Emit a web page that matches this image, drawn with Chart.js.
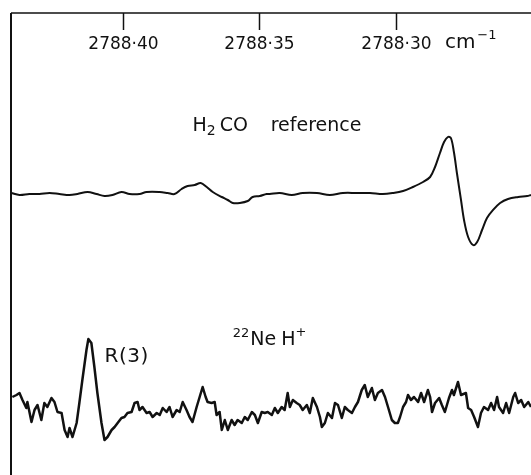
<!DOCTYPE html>
<html>
<head>
<meta charset="utf-8">
<script src="https://cdn.jsdelivr.net/npm/chart.js@4.4.1/dist/chart.umd.min.js"></script>
<style>
  html, body { margin: 0; padding: 0; background: #fff; }
  #wrap { width: 531px; height: 475px; }
</style>
</head>
<body>
<div id="wrap"><canvas id="spectrum" width="531" height="475"></canvas></div>
<script>
// Eje de número de onda (cm-1), invertido como en el original
const tickValues = [2788.40, 2788.35, 2788.30];
const xRange = [2788.2506, 2788.4408];

// Traza de referencia H2CO (número de onda, señal en unidades arbitrarias)
const h2coWavenumber = [
    2788.4407, 2788.4377, 2788.4341, 2788.4304, 2788.4267, 2788.4231, 2788.4194, 2788.4165,
    2788.4128, 2788.4095, 2788.4066, 2788.4037, 2788.4004, 2788.3974, 2788.3938, 2788.3912,
    2788.3864, 2788.3835, 2788.3810, 2788.3784, 2788.3762, 2788.3736, 2788.3714, 2788.3692,
    2788.3670, 2788.3637, 2788.3615, 2788.3597, 2788.3571, 2788.3542, 2788.3524, 2788.3498,
    2788.3473, 2788.3462, 2788.3425, 2788.3381, 2788.3341, 2788.3289, 2788.3242, 2788.3194,
    2788.3143, 2788.3095, 2788.3048, 2788.3011, 2788.2974, 2788.2938, 2788.2901, 2788.2875,
    2788.2857, 2788.2839, 2788.2824, 2788.2810, 2788.2799, 2788.2788, 2788.2777, 2788.2762,
    2788.2751, 2788.2736, 2788.2718, 2788.2703, 2788.2685, 2788.2667, 2788.2645, 2788.2619,
    2788.2590, 2788.2553, 2788.2520, 2788.2506
];
const h2coSignal = [
    1, -1, 0, 0, 1, 0, -1, 0,
    2, 0, -2, -1, 2, 0, 0, 2,
    2, 1, 0, 5, 8, 9, 11, 7,
    2, -3, -6, -9, -9, -7, -3, -2,
    0, 0, 1, -1, 1, 1, -1, 1,
    1, 1, 0, 1, 3, 7, 12, 17,
    27, 41, 52, 57, 56, 42, 21, -6,
    -26, -43, -51, -48, -36, -24, -16, -9,
    -5, -3, -2, -1
];

// Traza de 22NeH+ con la línea R(3)
const nehWavenumber = [
    2788.4403, 2788.4388, 2788.4377, 2788.4366, 2788.4352, 2788.4348, 2788.4333, 2788.4322,
    2788.4311, 2788.4297, 2788.4286, 2788.4275, 2788.4260, 2788.4249, 2788.4238, 2788.4223,
    2788.4212, 2788.4201, 2788.4194, 2788.4183, 2788.4168, 2788.4158, 2788.4147, 2788.4132,
    2788.4125, 2788.4114, 2788.4103, 2788.4092, 2788.4077, 2788.4066, 2788.4055, 2788.4040,
    2788.4029, 2788.4018, 2788.4004, 2788.3993, 2788.3982, 2788.3967, 2788.3956, 2788.3945,
    2788.3938, 2788.3927, 2788.3912, 2788.3901, 2788.3890, 2788.3875, 2788.3864, 2788.3853,
    2788.3839, 2788.3828, 2788.3817, 2788.3802, 2788.3791, 2788.3780, 2788.3766, 2788.3755,
    2788.3744, 2788.3729, 2788.3718, 2788.3707, 2788.3696, 2788.3689, 2788.3674, 2788.3663,
    2788.3656, 2788.3645, 2788.3637, 2788.3626, 2788.3615, 2788.3601, 2788.3590, 2788.3579,
    2788.3564, 2788.3553, 2788.3542, 2788.3527, 2788.3516, 2788.3505, 2788.3491, 2788.3480,
    2788.3469, 2788.3454, 2788.3443, 2788.3432, 2788.3418, 2788.3407, 2788.3396, 2788.3388,
    2788.3377, 2788.3363, 2788.3352, 2788.3341, 2788.3326, 2788.3315, 2788.3304, 2788.3289,
    2788.3278, 2788.3271, 2788.3260, 2788.3249, 2788.3234, 2788.3223, 2788.3212, 2788.3198,
    2788.3187, 2788.3176, 2788.3161, 2788.3150, 2788.3139, 2788.3125, 2788.3114, 2788.3103,
    2788.3088, 2788.3077, 2788.3066, 2788.3051, 2788.3040, 2788.3029, 2788.3015, 2788.3004,
    2788.2993, 2788.2985, 2788.2974, 2788.2963, 2788.2956, 2788.2945, 2788.2934, 2788.2919,
    2788.2908, 2788.2897, 2788.2883, 2788.2875, 2788.2868, 2788.2857, 2788.2842, 2788.2832,
    2788.2821, 2788.2806, 2788.2795, 2788.2788, 2788.2773, 2788.2762, 2788.2744, 2788.2736,
    2788.2725, 2788.2714, 2788.2700, 2788.2689, 2788.2678, 2788.2663, 2788.2652, 2788.2641,
    2788.2630, 2788.2623, 2788.2608, 2788.2597, 2788.2586, 2788.2571, 2788.2564, 2788.2553,
    2788.2542, 2788.2531, 2788.2516, 2788.2506
];
const nehSignal = [
    11, 13, 15, 8, 0, 6, -14, -2,
    3, -12, 5, 1, 10, 6, -4, -5,
    -22, -29, -20, -29, -15, 5, 28, 58,
    69, 65, 41, 15, -15, -32, -29, -22,
    -19, -15, -10, -9, -5, -4, 5, 6,
    -2, 1, -5, -4, -9, -5, -7, 0,
    -4, 1, -9, -2, -4, 6, -2, -9,
    -14, 1, 11, 21, 11, 6, 5, 6,
    -7, -4, -22, -12, -22, -12, -17, -12,
    -15, -9, -12, -4, -7, -15, -4, -5,
    -4, -7, 0, -5, 1, -2, 15, 1,
    8, 5, 3, -2, 3, -5, 10, 1,
    -9, -19, -15, -5, -10, 5, 3, -10,
    1, -2, -5, 1, 6, 18, 23, 11,
    20, 8, 15, 18, 11, 1, -12, -15,
    -15, -9, 1, 6, 13, 8, 11, 6,
    15, 6, 18, 11, -4, 5, 10, 3,
    -4, 10, 18, 13, 26, 13, 15, 0,
    -2, -9, -19, -5, 1, -2, 5, -2,
    11, 1, -5, 5, -5, 11, 15, 5,
    8, 1, 6, 1
];

// Desplazamiento vertical de cada traza en el eje Y (unidades arbitrarias)
const h2coOffset = 281;
const nehOffset = 67;
const yRange = [0, 462];

const ink = '#111111';
const fontFamily = '"DejaVu Sans", sans-serif';

// Función para armar los puntos {x, y} de una traza
function buildPoints(xs, ys, offset) {
    return xs.map((x, i) => ({ x: x, y: ys[i] + offset }));
}

// Función para escribir trozos de texto seguidos (subíndices, superíndices)
function drawRuns(ctx, x, y, runs) {
    runs.forEach(run => {
        ctx.font = `${run.size}px ${fontFamily}`;
        ctx.fillText(run.text, x, y + (run.dy || 0));
        x += ctx.measureText(run.text).width + (run.gap || 0);
    });
}

// Plugin para el marco, las marcas del eje superior y las etiquetas
const framePlugin = {
    id: 'frame',
    afterDatasetsDraw(chart) {
        const { ctx, chartArea, scales } = chart;
        const xs = scales.x;
        const ys = scales.y;
        ctx.save();
        ctx.strokeStyle = ink;
        ctx.fillStyle = ink;

        // Marco: línea superior y línea izquierda
        ctx.lineWidth = 1.5;
        ctx.beginPath();
        ctx.moveTo(chartArea.left, chartArea.top);
        ctx.lineTo(chartArea.right, chartArea.top);
        ctx.stroke();
        ctx.lineWidth = 2;
        ctx.beginPath();
        ctx.moveTo(chartArea.left, chartArea.top);
        ctx.lineTo(chartArea.left, chartArea.bottom);
        ctx.stroke();

        // Marcas hacia dentro y etiquetas de los ticks
        const ticks = (xs.ticks && xs.ticks.length) ? xs.ticks.map(t => t.value) : tickValues;
        ctx.lineWidth = 1.5;
        ctx.textAlign = 'center';
        ctx.textBaseline = 'alphabetic';
        ctx.font = `17px ${fontFamily}`;
        ticks.forEach(v => {
            const px = Math.round(xs.getPixelForValue(v)) + 0.5;
            ctx.beginPath();
            ctx.moveTo(px, chartArea.top);
            ctx.lineTo(px, chartArea.top + 17);
            ctx.stroke();
            ctx.fillText(v.toFixed(2).replace('.', '\u00b7'), px, chartArea.top + 36);
        });

        // Unidad del eje
        ctx.textAlign = 'left';
        drawRuns(ctx, xs.getPixelForValue(2788.2821), chartArea.top + 35, [
            { text: 'cm', size: 20, gap: 2 },
            { text: '\u22121', size: 13, dy: -9 }
        ]);

        // Etiqueta de la referencia
        drawRuns(ctx, xs.getPixelForValue(2788.3744), ys.getPixelForValue(344), [
            { text: 'H', size: 19 },
            { text: '2', size: 14, dy: 4, gap: 4 },
            { text: 'CO', size: 19 }
        ]);
        drawRuns(ctx, xs.getPixelForValue(2788.3458), ys.getPixelForValue(344), [
            { text: 'reference', size: 19 }
        ]);

        // Etiqueta de la especie 22NeH+
        drawRuns(ctx, xs.getPixelForValue(2788.3597), ys.getPixelForValue(130), [
            { text: '22', size: 13, dy: -8, gap: 1 },
            { text: 'Ne', size: 19, gap: 5 },
            { text: 'H', size: 19 },
            { text: '+', size: 13, dy: -9 }
        ]);

        // Etiqueta de la línea R(3)
        ctx.letterSpacing = '0.5px';
        drawRuns(ctx, xs.getPixelForValue(2788.4066), ys.getPixelForValue(113), [
            { text: 'R(3)', size: 20 }
        ]);
        ctx.restore();
    }
};

// Crear el gráfico
const ctxSpectrum = document.getElementById('spectrum').getContext('2d');
const spectrumChart = new Chart(ctxSpectrum, {
    type: 'line',
    data: {
        datasets: [
            {
                label: 'H2CO reference',
                data: buildPoints(h2coWavenumber, h2coSignal, h2coOffset),
                borderColor: ink,
                borderWidth: 2,
                pointRadius: 0,
                tension: 0.35,
                fill: false
            },
            {
                label: '22NeH+',
                data: buildPoints(nehWavenumber, nehSignal, nehOffset),
                borderColor: ink,
                borderWidth: 2.5,
                pointRadius: 0,
                tension: 0,
                borderJoinStyle: 'round',
                fill: false
            }
        ]
    },
    options: {
        responsive: false,
        animation: false,
        layout: { padding: { top: 13, left: 11, right: 0, bottom: 0 } },
        plugins: {
            legend: { display: false },
            tooltip: { enabled: false }
        },
        scales: {
            x: {
                type: 'linear',
                reverse: true,
                min: xRange[0],
                max: xRange[1],
                display: false,
                afterBuildTicks: scale => {
                    scale.ticks = tickValues.map(v => ({ value: v }));
                }
            },
            y: {
                type: 'linear',
                min: yRange[0],
                max: yRange[1],
                display: false
            }
        }
    },
    plugins: [framePlugin]
});
</script>
</body>
</html>
